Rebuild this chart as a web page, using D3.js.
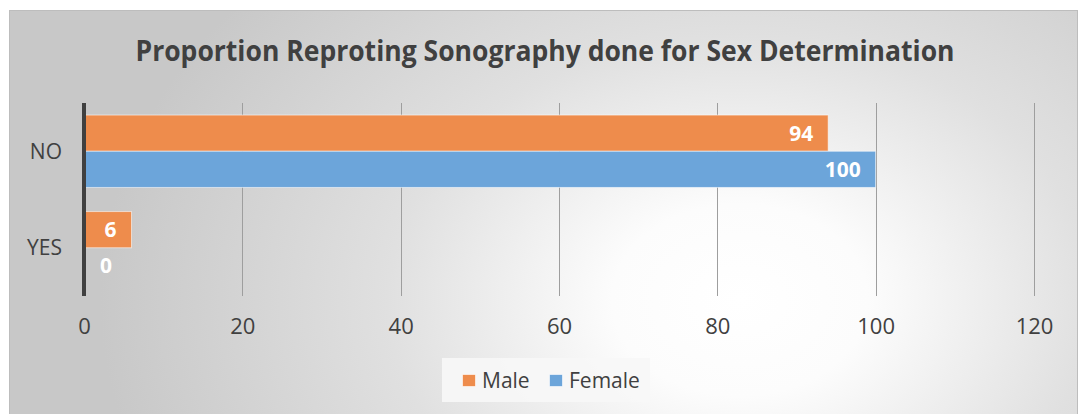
<!DOCTYPE html>
<html>
<head>
<meta charset="utf-8">
<script src="https://cdn.jsdelivr.net/npm/d3@7"></script>
<style>
  html, body { margin: 0; padding: 0; background: #ffffff; }
  svg { display: block; }
  text { font-family: "Open Sans", "DejaVu Sans", sans-serif; }
</style>
</head>
<body>
<svg id="chart" width="1080" height="414"></svg>
<script>
const title = "Proportion Reproting Sonography done for Sex Determination";
const categories = ["NO", "YES"];
const seriesNames = ["Male", "Female"];
const maleValues = [94, 6];
const femaleValues = [100, 0];
const xTicks = [0, 20, 40, 60, 80, 100, 120];
const colors = ["#EE8C4C", "#6CA5DA"];

const seriesValues = [maleValues, femaleValues];
const rows = categories.map((c, i) => ({
  cat: c,
  vals: seriesNames.map((s, j) => ({ series: s, value: seriesValues[j][i], color: colors[j] }))
}));

const svg = d3.select("#chart");

// background gradient
const defs = svg.append("defs");
const grad = defs.append("radialGradient")
  .attr("id", "bg")
  .attr("gradientUnits", "userSpaceOnUse")
  .attr("cx", 740).attr("cy", 300).attr("r", 640)
  .attr("gradientTransform", "translate(740,300) scale(1,0.75) translate(-740,-300)");
grad.append("stop").attr("offset", 0).attr("stop-color", "#ffffff");
grad.append("stop").attr("offset", 0.2).attr("stop-color", "#fcfcfc");
grad.append("stop").attr("offset", 0.55).attr("stop-color", "#e0e0e0");
grad.append("stop").attr("offset", 1).attr("stop-color", "#c8c8c8");

svg.append("rect")
  .attr("x", 9.5).attr("y", 10.5)
  .attr("width", 1068).attr("height", 420)
  .attr("fill", "url(#bg)")
  .attr("stroke", "#bdbdbd").attr("stroke-width", 1);

// title
svg.append("text")
  .attr("x", 545).attr("y", 61)
  .attr("text-anchor", "middle")
  .attr("font-size", 28)
  .attr("font-weight", "bold")
  .attr("fill", "#404040")
  .attr("textLength", 819)
  .attr("lengthAdjust", "spacingAndGlyphs")
  .text(title);

// scales
const x = d3.scaleLinear().domain([0, 120]).range([84, 1034]);
const y = d3.scaleBand().domain(categories).range([103, 296]).paddingInner(0.25).paddingOuter(0.125);
const ySub = d3.scaleBand().domain(seriesNames).range([0, y.bandwidth()]).padding(0);

// gridlines
svg.append("g")
  .selectAll("line")
  .data(xTicks.filter(t => t > 0))
  .join("line")
  .attr("x1", d => Math.round(x(d)) + 0.5).attr("x2", d => Math.round(x(d)) + 0.5)
  .attr("y1", 103).attr("y2", 296)
  .attr("stroke", "#9e9e9e").attr("stroke-width", 1);

// x axis labels
const xAxis = d3.axisBottom(x).tickValues(xTicks).tickSize(0).tickPadding(0);
const gx = svg.append("g").attr("transform", "translate(0,318)").call(xAxis);
gx.select(".domain").remove();
gx.selectAll("text")
  .attr("font-size", 22)
  .attr("fill", "#404040")
  .attr("dy", "0.71em")
  .style("font-family", "'Open Sans', sans-serif");

// bars
const groups = svg.append("g").selectAll("g")
  .data(rows)
  .join("g")
  .attr("transform", d => `translate(0,${y(d.cat)})`);

groups.selectAll("rect")
  .data(d => d.vals)
  .join("rect")
  .attr("x", x(0))
  .attr("y", d => ySub(d.series))
  .attr("width", d => Math.max(0, x(d.value) - x(0)))
  .attr("height", ySub.bandwidth())
  .attr("fill", d => d.color)
  .attr("stroke", d => d.value > 0 ? "rgba(255,255,255,0.55)" : "none")
  .attr("stroke-width", 1);

groups.selectAll("text")
  .data(d => d.vals)
  .join("text")
  .attr("x", d => Math.max(x(d.value) - 15, x(0) + 28))
  .attr("y", d => ySub(d.series) + ySub.bandwidth() / 2)
  .attr("dy", "0.36em")
  .attr("text-anchor", "end")
  .attr("font-size", 21)
  .attr("font-weight", "bold")
  .attr("fill", "#ffffff")
  .text(d => d.value);

// y axis
const yAxis = d3.axisLeft(y).tickSize(0).tickPadding(0);
const gy = svg.append("g").attr("transform", "translate(62,0)").call(yAxis);
gy.select(".domain").remove();
gy.selectAll("text")
  .attr("font-size", 21)
  .attr("fill", "#404040")
  .attr("dy", "0.36em")
  .style("font-family", "'Open Sans', sans-serif");

svg.append("line")
  .attr("x1", x(0)).attr("x2", x(0))
  .attr("y1", 103).attr("y2", 296)
  .attr("stroke", "#404040").attr("stroke-width", 4);

// legend
const legend = svg.append("g");
legend.append("rect")
  .attr("x", 442).attr("y", 358).attr("width", 208).attr("height", 44)
  .attr("fill", "#f7f7f7").attr("fill-opacity", 0.9);
const legX = [462, 549];
const li = legend.selectAll("g.item")
  .data(seriesNames.map((s, i) => ({ s, c: colors[i], x: legX[i] })))
  .join("g").attr("class", "item");
li.append("rect")
  .attr("x", d => d.x + 0.5).attr("y", 374.5).attr("width", 13).attr("height", 12)
  .attr("fill", d => d.c).attr("stroke", "rgba(255,255,255,0.6)");
li.append("text")
  .attr("x", d => d.x + 20).attr("y", 388)
  .attr("font-size", 21).attr("fill", "#404040")
  .text(d => d.s);
</script>
</body>
</html>
